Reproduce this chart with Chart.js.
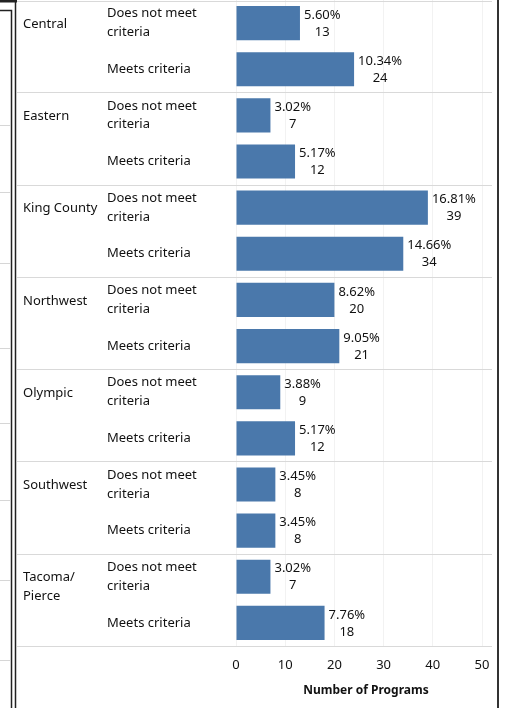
<!DOCTYPE html>
<html>
<head>
<meta charset="utf-8">
<script src="https://cdn.jsdelivr.net/npm/chart.js@4/dist/chart.umd.min.js"></script>
<style>
html,body{margin:0;padding:0;background:#fff;}
#wrap{position:absolute;left:0;top:0;width:514px;height:708px;}
</style>
</head>
<body>
<div id="wrap"><canvas id="c" width="514" height="708"></canvas></div>
<script>
// ---- data ----
const regions = [['Central'], ['Eastern'], ['King County'], ['Northwest'], ['Olympic'], ['Southwest'], ['Tacoma/', 'Pierce']];
const criteria = [['Does not meet', 'criteria'], ['Meets criteria']];
const doesNotMeet = [13, 7, 39, 20, 9, 8, 7];
const meets = [24, 12, 34, 21, 12, 8, 18];
const pctDoesNotMeet = ['5.60%', '3.02%', '16.81%', '8.62%', '3.88%', '3.45%', '3.02%'];
const pctMeets = ['10.34%', '5.17%', '14.66%', '9.05%', '5.17%', '3.45%', '7.76%'];
const xTicks = [0, 10, 20, 30, 40, 50];
const xTitle = 'Number of Programs';

// ---- build table ----
const labels = [], values = [], pcts = [];
regions.forEach((r, i) => {
  labels.push(criteria[0]); values.push(doesNotMeet[i]); pcts.push(pctDoesNotMeet[i]);
  labels.push(criteria[1]); values.push(meets[i]); pcts.push(pctMeets[i]);
});

const FONT = '"Noto Sans", "Open Sans", sans-serif';
const TXT = '#111';

const deco = {
  id: 'deco',
  beforeDraw(chart) {
    const ctx = chart.ctx;
    ctx.save();
    ctx.fillStyle = '#fff';
    ctx.fillRect(0, 0, chart.width, chart.height);
    // left strip faint lines
    ctx.strokeStyle = '#d6d6d6'; ctx.lineWidth = 1;
    [125, 192, 263, 348, 423, 500, 580, 660].forEach(y => {
      ctx.beginPath(); ctx.moveTo(0, y + 0.5); ctx.lineTo(10, y + 0.5); ctx.stroke();
    });
    ctx.strokeStyle = '#222'; ctx.lineWidth = 1.5;
    ctx.beginPath(); ctx.moveTo(0, 10.5); ctx.lineTo(11.5, 10.5); ctx.lineTo(11.5, 708); ctx.stroke();
    ctx.beginPath(); ctx.moveTo(15.5, 0); ctx.lineTo(15.5, 708); ctx.stroke();
    ctx.lineWidth = 3;
    ctx.beginPath(); ctx.moveTo(0, 1); ctx.lineTo(17, 1); ctx.stroke();
    // right border
    ctx.strokeStyle = '#333'; ctx.lineWidth = 2;
    ctx.beginPath(); ctx.moveTo(498, 0); ctx.lineTo(498, 708); ctx.stroke();
    ctx.restore();
  },
  afterDraw(chart) {
    const ctx = chart.ctx;
    const y = chart.scales.y, ca = chart.chartArea;
    ctx.save();
    // separators
    ctx.strokeStyle = '#d9d9d9'; ctx.lineWidth = 1;
    const seps = [ca.top + 1];
    for (let k = 1; k < regions.length; k++) {
      seps.push((y.getPixelForValue(2 * k - 1) + y.getPixelForValue(2 * k)) / 2);
    }
    seps.push(ca.bottom);
    seps.forEach(sy => {
      const yy = Math.round(sy) + 0.5;
      ctx.beginPath(); ctx.moveTo(17, yy); ctx.lineTo(492, yy); ctx.stroke();
    });
    // region labels
    ctx.fillStyle = TXT; ctx.font = '13px ' + FONT;
    ctx.textAlign = 'left'; ctx.textBaseline = 'middle';
    regions.forEach((r, i) => {
      const base = y.getPixelForValue(2 * i) + 1;
      r.forEach((line, j) => ctx.fillText(line, 23, base + j * 19));
    });
    // data labels
    const meta = chart.getDatasetMeta(0);
    meta.data.forEach((bar, i) => {
      const pct = pcts[i];
      const w = ctx.measureText(pct).width;
      const cx = bar.x + 4 + w / 2;
      ctx.textAlign = 'center';
      ctx.fillText(pct, cx, bar.y - 8);
      ctx.fillText(String(values[i]), cx, bar.y + 9);
    });
    // axis title
    ctx.font = 'bold 12px ' + FONT;
    ctx.textAlign = 'center';
    ctx.fillText(xTitle, 366, 691);
    ctx.restore();
  }
};

new Chart(document.getElementById('c'), {
  type: 'bar',
  data: {
    labels: labels,
    datasets: [{
      data: values,
      backgroundColor: '#4a78ab',
      barPercentage: 0.74,
      categoryPercentage: 1
    }]
  },
  options: {
    indexAxis: 'y',
    responsive: false,
    animation: false,
    events: [],
    layout: { padding: { left: 107, right: 32, top: 0, bottom: 0 } },
    plugins: { legend: { display: false }, tooltip: { enabled: false } },
    scales: {
      y: {
        grid: { display: false },
        border: { display: false },
        ticks: {
          crossAlign: 'far',
          padding: 0,
          color: TXT,
          font: { family: FONT, size: 13, lineHeight: 1.45 },
          autoSkip: false
        },
        afterFit(s) { s.width = 129; s.paddingTop = 0; s.paddingBottom = 0; }
      },
      x: {
        min: xTicks[0],
        max: xTicks[xTicks.length - 1],
        afterBuildTicks(s) { s.ticks = xTicks.map(v => ({ value: v })); },
        grid: { color: '#f2f2f2', drawTicks: false },
        border: { display: false },
        ticks: {
          padding: 11,
          color: TXT,
          font: { family: FONT, size: 13 }
        },
        afterFit(s) { s.height = 62; s.paddingLeft = 0; s.paddingRight = 0; }
      }
    }
  },
  plugins: [deco]
});
</script>
</body>
</html>
